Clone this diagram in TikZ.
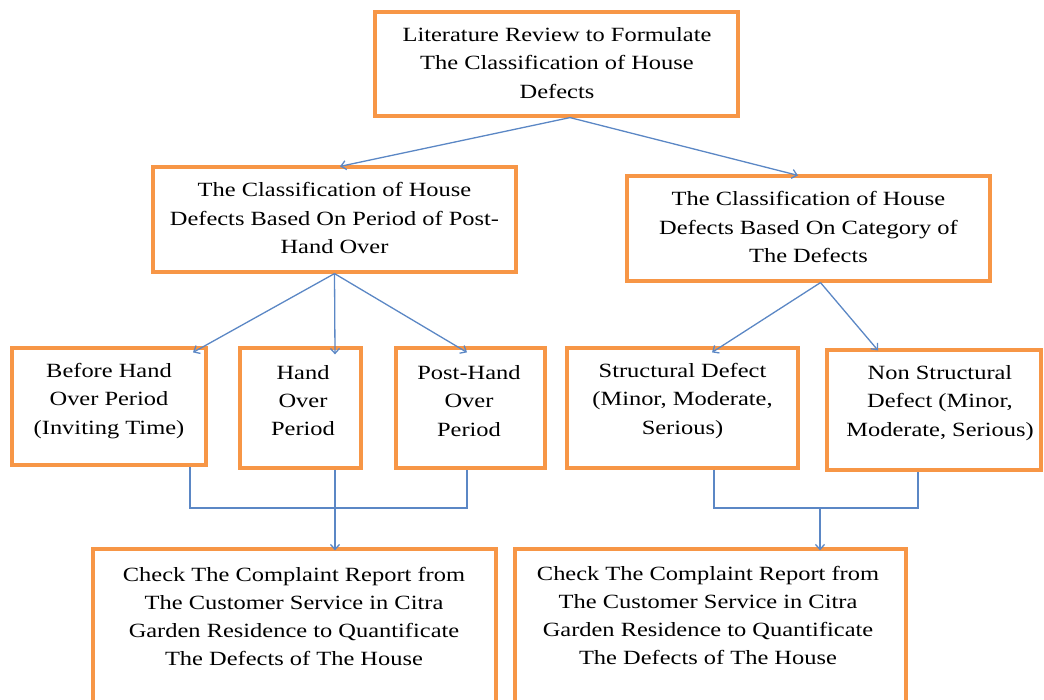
\documentclass[tikz,border=0pt]{standalone}
\usepackage{fontspec}
\setmainfont{Liberation Serif}
\newfontfamily\boxfont[FakeStretch=1.21]{Liberation Serif}
\usetikzlibrary{arrows.meta,calc}
\definecolor{boxorange}{HTML}{F79646}
\definecolor{linkblue}{HTML}{5B87C5}
\begin{document}
\begin{tikzpicture}[x=1pt,y=-1pt,
  box/.style={draw=boxorange, line width=3.2pt, inner sep=0pt},
  txt/.style={align=center, inner sep=0pt, font=\boxfont\fontsize{20.2}{28.2}\selectfont},
  arr/.style={draw=linkblue, line width=1.3pt, -{Straight Barb[length=5pt,width=9pt]}},
  lnk/.style={draw=linkblue, line width=1.3pt}]
\useasboundingbox (0,0) rectangle (1044,700);
\clip (0,0) rectangle (1044,700);
% boxes
\node[box, minimum width=363pt, minimum height=104pt] (top) at (556.5,64) {};
\node[box, minimum width=363pt, minimum height=105pt] (cl) at (334.5,219.5) {};
\node[box, minimum width=363pt, minimum height=105pt] (cr) at (808.5,228.5) {};
\node[box, minimum width=194pt, minimum height=117pt] (b1) at (109,406.5) {};
\node[box, minimum width=121pt, minimum height=120pt] (b2) at (300.5,408) {};
\node[box, minimum width=149pt, minimum height=120pt] (b3) at (470.5,408) {};
\node[box, minimum width=231pt, minimum height=120pt] (b4) at (682.5,408) {};
\node[box, minimum width=214pt, minimum height=120pt] (b5) at (934,410) {};
\node[box, minimum width=403pt, minimum height=171pt] (b6) at (294.5,634.5) {};
\node[box, minimum width=391pt, minimum height=171pt] (b7) at (710.5,634.5) {};
% texts
\node[txt] (ttop) at (557,63) {Literature Review to Formulate\\The Classification of House\\Defects};
\node[txt] (tcl) at (334.5,218) {The Classification of House\\Defects Based On Period of Post-\\Hand Over};
\node[txt] (tcr) at (808.5,227) {The Classification of House\\Defects Based On Category of\\The Defects};
\node[txt] (tb1) at (109,401) {Before Hand\\Over Period\\(Inviting Time)};
\node[txt] (tb2) at (303,400.5) {Hand\\Over\\Period};
\node[txt] (tb3) at (469,401) {Post-Hand\\Over\\Period};
\node[txt] (tb4) at (682.5,401) {Structural Defect\\(Minor, Moderate,\\Serious)};
\node[txt] (tb5) at (940,403) {Non Structural\\Defect (Minor,\\Moderate, Serious)};
\node[txt] (tb6) at (294,616.5) {Check The Complaint Report from\\The Customer Service in Citra\\Garden Residence to Quantificate\\The Defects of The House};
\node[txt] (tb7) at (708,615.5) {Check The Complaint Report from\\The Customer Service in Citra\\Garden Residence to Quantificate\\The Defects of The House};
% arrows level 1
\draw[arr] ([xshift=13.5pt]top.south) -- ([xshift=5.5pt,yshift=-1pt]cl.north);
\draw[arr] ([xshift=13.5pt]top.south) -- ([xshift=-10.5pt,yshift=-1pt]cr.north);
% arrows level 2
\draw[arr] (cl.south) -- ([xshift=84pt,yshift=-6pt]b1.north);
\draw[arr] (cl.south) -- ([xshift=34.5pt,yshift=-8pt]b2.north);
\draw[arr] (cl.south) -- ([xshift=-3.5pt,yshift=-6pt]b3.north);
\draw[arr] ([xshift=12pt]cr.south) -- ([xshift=29.5pt,yshift=-6pt]b4.north);
\draw[arr] ([xshift=12pt]cr.south) -- ([xshift=-56pt,yshift=-2pt]b5.north);
% joins left
\coordinate (jl1) at (190,508);
\coordinate (jl3) at (467,508);
\draw[lnk] ([xshift=81pt]b1.south) -- (jl1) -- (jl3) -- ([xshift=-3.5pt]b3.south);
\draw[arr] ([xshift=34.5pt]b2.south) -- ([xshift=40.5pt,yshift=-3pt]b6.north);
% joins right
\coordinate (jr1) at (714,508);
\coordinate (jr2) at (918,508);
\coordinate (jrm) at (820,508);
\draw[lnk] ([xshift=31.5pt]b4.south) -- (jr1) -- (jr2) -- ([xshift=-16pt]b5.south);
\draw[arr] (jrm) -- ([xshift=109.5pt,yshift=-3pt]b7.north);
\end{tikzpicture}
\end{document}
